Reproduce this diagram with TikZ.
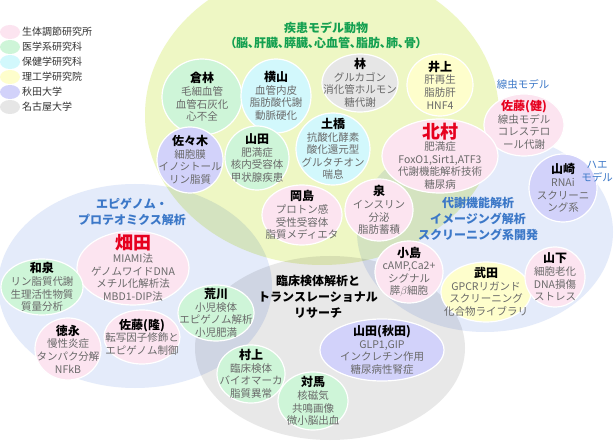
\documentclass[tikz,border=0pt]{standalone}
\usepackage{fontspec}
\setmainfont{Noto Sans CJK JP}
\usepackage{tikz}
\usetikzlibrary{positioning}
\definecolor{bgyel}{RGB}{238,247,196}
\definecolor{bgblu}{RGB}{228,235,250}
\definecolor{bggry}{RGB}{232,232,232}
\definecolor{pk}{RGB}{252,228,240}
\definecolor{gn}{RGB}{206,245,216}
\definecolor{cy}{RGB}{210,248,252}
\definecolor{yl}{RGB}{254,254,204}
\definecolor{pu}{RGB}{210,210,250}
\definecolor{gy}{RGB}{230,230,230}
\definecolor{txt}{RGB}{105,105,105}
\definecolor{ttl}{RGB}{60,120,200}
\definecolor{grn}{RGB}{20,160,80}
\definecolor{rd}{RGB}{230,0,30}
\newcommand\hd[1]{{\fontsize{12}{14}\selectfont\bfseries\color{black}#1}}
\newcommand\hdr[1]{{\fontsize{18}{20}\selectfont\bfseries\color{rd}#1}}
\newcommand\member[7]{%
  \path[blob,fill=#5] (#2) ellipse ({#3pt} and {#4pt});
  \node[memb] (#1) at (#2) {#6\\#7};}

\begin{document}
\begin{tikzpicture}[x=1pt,y=-1pt,
  blob/.style={draw=white,line width=1.2pt},
  memb/.style={align=center,inner sep=0pt,text=txt,font=\fontsize{10.5}{12.6}\selectfont},
  area/.style={align=center,inner sep=0pt,text=ttl,font=\fontsize{12}{16}\selectfont\bfseries}]
  \useasboundingbox (0,0) rectangle (614,441);
  \clip (0,0) rectangle (614,441);
  \fill[white] (0,0) rectangle (614,441);
  \begin{scope}[blend group=multiply]
    \fill[bgyel] (322,115) ellipse (177pt and 150pt);
    \fill[bgblu] (485,232) ellipse (128pt and 100pt);
    \fill[bgblu] (135,286) ellipse (137pt and 102pt);
    \fill[bggry] (330,348) ellipse (135pt and 92pt);
  \end{scope}
  \foreach \c/\t [count=\i] in {pk/生体調節研究所,gn/医学系研究科,cy/保健学研究科,yl/理工学研究院,pu/秋田大学,gy/名古屋大学} {
    \fill[\c] (10,{17+15*\i}) ellipse (10pt and 7pt);
    \node[anchor=west,inner sep=0pt,text=black!80,font=\fontsize{10}{12}\selectfont] (leg\i) at (22,{17+15*\i}) {\t};
  }
  \member{kurabayashi}{202,97}{40}{38}{gn}{\hd{倉林}}{毛細血管\\血管石灰化\\心不全}
  \member{yokoyama}{276,96}{35}{37}{cy}{\hd{横山}}{血管内皮\\脂肪酸代謝\\動脈硬化}
  \member{hayashi}{360,83}{38}{29}{gy}{\hd{林}}{グルカゴン\\消化管ホルモン\\糖代謝}
  \member{inoue}{440,85}{33}{31}{yl}{\hd{井上}}{肝再生\\脂肪肝\\HNF4}
  \member{satoken}{524,125}{40}{31}{pk}{\hd{\color{rd}佐藤(健)}}{線虫モデル\\コレステロ\\ール代謝}
  \member{kitamura}{440,156}{58}{37}{pk}{\hdr{北村}}{肥満症\\FoxO1,Sirt1,ATF3\\代謝機能解析技術\\糖尿病}
  \member{dobashi}{333,149}{37}{36}{cy}{\hd{土橋}}{抗酸化酵素\\酸化還元型\\グルタチオン\\喘息}
  \member{yamada}{257,158}{32}{32}{gn}{\hd{山田}}{肥満症\\核内受容体\\甲状腺疾患}
  \member{sasaki}{190,160}{33}{33}{pu}{\hd{佐々木}}{細胞膜\\イノシトール\\リン脂質}
  \member{okajima}{302,215}{40}{30}{pk}{\hd{岡島}}{プロトン感\\受性受容体\\脂質メディエタ}
  \member{izumi}{379,210}{34}{31}{pk}{\hd{泉}}{インスリン\\分泌\\脂肪蓄積}
  \member{yamazaki}{563,188}{34}{34}{pu}{\hd{山崎}}{RNAi\\スクリーニ\\ング系}
  \member{kojima}{409,272}{34}{31}{pk}{\hd{小島}}{cAMP,Ca2+\\シグナル\\膵$\beta$細胞}
  \member{takeda}{486,292}{45}{30}{yl}{\hd{武田}}{GPCRリガンド\\スクリーニング\\化合物ライブラリ}
  \member{yamashita}{555,277}{30}{30}{pk}{\hd{山下}}{細胞老化\\DNA損傷\\ストレス}
  \member{hatada}{133,268}{56}{37}{pk}{\hdr{畑田}}{MIAMI法\\ゲノムワイドDNA\\メチル化解析法\\MBD1-DIP法}
  \member{waizumi}{42,287}{41}{28}{gn}{\hd{和泉}}{リン脂質代謝\\生理活性物質\\質量分析}
  \member{tokunaga}{68,349}{33}{31}{pk}{\hd{徳永}}{慢性炎症\\タンパク分解\\NFkB}
  \member{satotaka}{142,337}{38}{27}{pk}{\hd{佐藤(隆)}}{転写因子修飾と\\エピゲノム制御}
  \member{arakawa}{216,313}{38}{28}{gn}{\hd{荒川}}{小児検体\\エピゲノム解析\\小児肥満}
  \member{yamadaakita}{382,350}{62}{31}{pu}{\hd{山田(秋田)}}{GLP1,GIP\\インクレチン作用\\糖尿病性腎症}
  \member{murakami}{251,374}{34}{29}{gn}{\hd{村上}}{臨床検体\\バイオマーカ\\脂質異常}
  \member{tsushima}{313,401}{35}{29}{gn}{\hd{対馬}}{核磁気\\共鳴画像\\微小脳出血}
  \node[align=center,text=grn,font=\fontsize{12}{15}\selectfont\bfseries] (shikkan) at (326,35) {疾患モデル動物\\\addfontfeatures{RawFeature=+palt}（脳、肝臓、膵臓、心血管、脂肪、肺、骨）};
  \node[area,font=\fontsize{10.5}{13}\selectfont] (senchu) at (523,84) {線虫モデル};
  \node[area,font=\fontsize{10.5}{13}\selectfont] (hae) at (597,172) {ハエ\\モデル};
  \node[area] (taisha) at (478,219) {代謝機能解析\\イメージング解析\\スクリーニング系開発};
  \node[area] (epi) at (132,212) {エピゲノム・\\プロテオミクス解析};
  \node[area,text=black] (rinsho) at (318,297) {臨床検体解析と\\トランスレーショナル\\リサーチ};
\end{tikzpicture}
\end{document}
